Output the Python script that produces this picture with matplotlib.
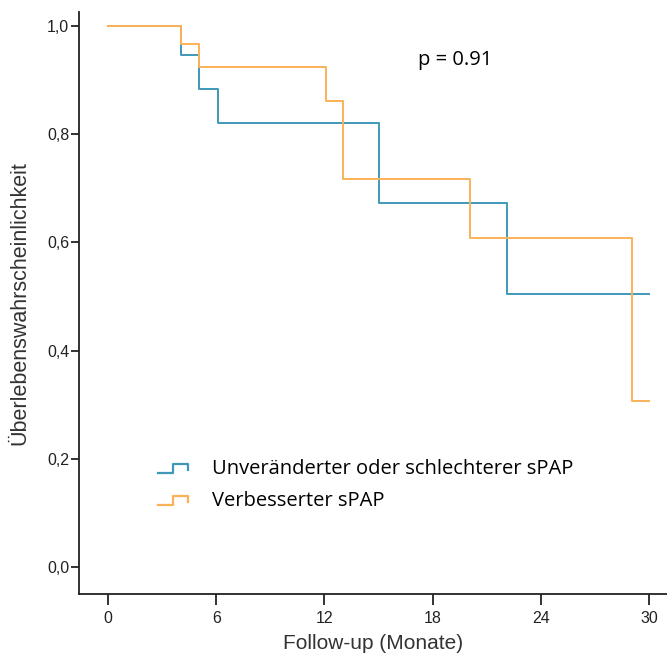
import matplotlib
matplotlib.use("Agg")
import matplotlib.pyplot as plt
from matplotlib.legend_handler import HandlerBase
from matplotlib.lines import Line2D
from matplotlib.ticker import FuncFormatter

# Kaplan-Meier Stufen (Zeit in Monaten, Ueberlebenswahrscheinlichkeit)
zeit_unv = [0, 4.05, 5.05, 6.1, 15.05, 22.1, 30]
surv_unv = [1.0, 0.946, 0.883, 0.820, 0.672, 0.505, 0.505]
zeit_verb = [0, 4.05, 5.05, 12.1, 13.05, 20.1, 29.05, 30]
surv_verb = [1.0, 0.967, 0.924, 0.862, 0.718, 0.609, 0.307, 0.307]

labels = ["Unveränderter oder schlechterer sPAP", "Verbesserter sPAP"]
x_ticks = [0, 6, 12, 18, 24, 30]
y_ticks = [0.0, 0.2, 0.4, 0.6, 0.8, 1.0]
p_text = "p = 0.91"

c_blue = "#3f98b8"
c_orange = "#fbb158"

narrow = ["Liberation Sans Narrow", "Liberation Sans", "DejaVu Sans"]


class StepHandler(HandlerBase):
    def create_artists(self, legend, orig_handle, xdescent, ydescent,
                       width, height, fontsize, trans):
        x0 = -xdescent
        w = width
        y0 = -ydescent + height * 0.1
        y1 = -ydescent + height * 0.7
        xs = [x0, x0 + w * 0.5, x0 + w * 0.5, x0 + w, x0 + w]
        ys = [y0, y0, y1, y1, y0 + height * 0.2]
        ln = Line2D(xs, ys, color=orig_handle.get_color(), lw=1.6)
        ln.set_transform(trans)
        return [ln]


fig = plt.figure(figsize=(6.67, 6.63), dpi=100)
ax = fig.add_axes([0.1184, 0.1041, 0.8816, 0.8778])

l1, = ax.step(zeit_unv, surv_unv, where="post", color=c_blue, lw=1.4)
l2, = ax.step(zeit_verb, surv_verb, where="post", color=c_orange, lw=1.4)

ax.set_xlim(-1.61, 31.0)
ax.set_ylim(-0.05, 1.026)
ax.set_xticks(x_ticks)
ax.set_yticks(y_ticks)
ax.yaxis.set_major_formatter(FuncFormatter(lambda v, pos: f"{v:.1f}".replace(".", ",")))

for s in ["top", "right"]:
    ax.spines[s].set_visible(False)
for s in ["left", "bottom"]:
    ax.spines[s].set_linewidth(1.3)
    ax.spines[s].set_color("#222222")

ax.tick_params(axis="y", length=6, width=1.3, labelsize=11.5, pad=1, colors="#222222")
ax.tick_params(axis="x", length=8, width=1.3, labelsize=11.5, pad=4, colors="#222222")
for lab in ax.get_xticklabels() + ax.get_yticklabels():
    lab.set_family(narrow)

ax.set_xlabel("Follow-up (Monate)", fontsize=15, family=narrow, color="#333333", labelpad=6)
ax.set_ylabel("Überlebenswahrscheinlichkeit", fontsize=15.5, family=narrow, color="#333333", labelpad=12)

ax.text(0.64, 0.918, p_text, transform=ax.transAxes, ha="center", va="center",
        fontsize=14.5, family=["Open Sans", "DejaVu Sans"])

ax.legend([l1, l2], labels, handler_map={Line2D: StepHandler()},
          loc="center left", bbox_to_anchor=(0.134, 0.187), frameon=False,
          borderpad=0, borderaxespad=0,
          prop={"family": ["Open Sans", "DejaVu Sans"], "size": 14.5},
          handlelength=1.5, handletextpad=1.2, labelspacing=0.6)

fig.savefig("out.png", dpi=100)
